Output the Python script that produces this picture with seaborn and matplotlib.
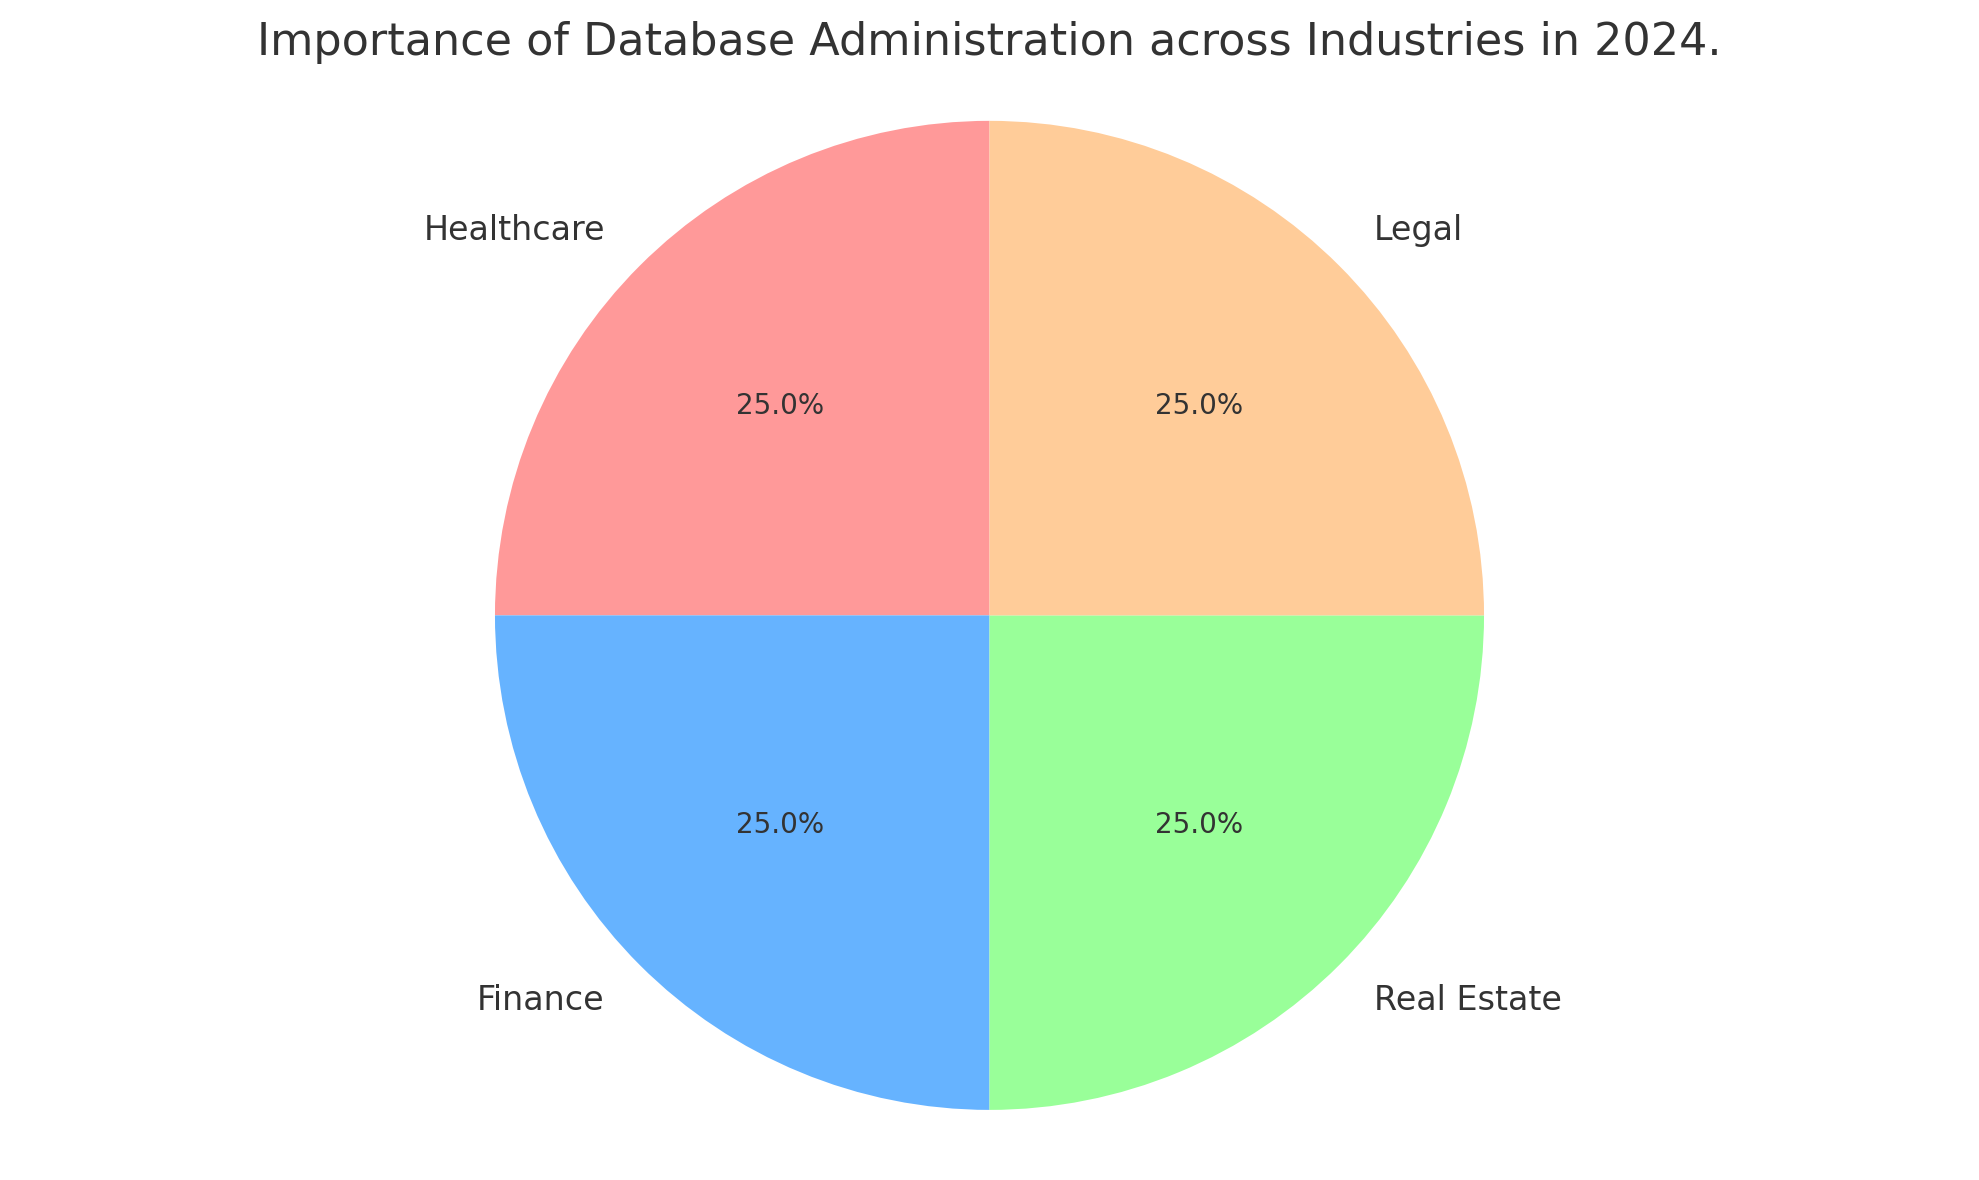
import matplotlib
matplotlib.use("Agg")
import seaborn as sns
from matplotlib import pyplot as plt

industries = ["Healthcare", "Finance", "Real Estate", "Legal"]
importance = [25, 25, 25, 25]
colors = ["#ff9999", "#66b3ff", "#99ff99", "#ffcc99"]

sns.set_theme(style="white")
plt.rcParams["font.family"] = ["DejaVu Sans"]
plt.rcParams["text.color"] = "#333333"

fig, ax = plt.subplots(figsize=(9.895, 5.9), dpi=200)
_, texts, autotexts = ax.pie(importance, labels=industries, colors=colors,
                             autopct="%1.1f%%", startangle=90,
                             wedgeprops={"linewidth": 0},
                             textprops={"fontsize": 12, "color": "#333333"})
for t in autotexts:
    t.set_fontsize(10)
ax.axis("equal")
ax.set_title("Importance of Database Administration across Industries in 2024.",
             fontsize=16, color="#333333")
plt.subplots_adjust(left=0.02, right=0.98, top=0.9395, bottom=0.0175)
plt.savefig("out.png", dpi=200)
